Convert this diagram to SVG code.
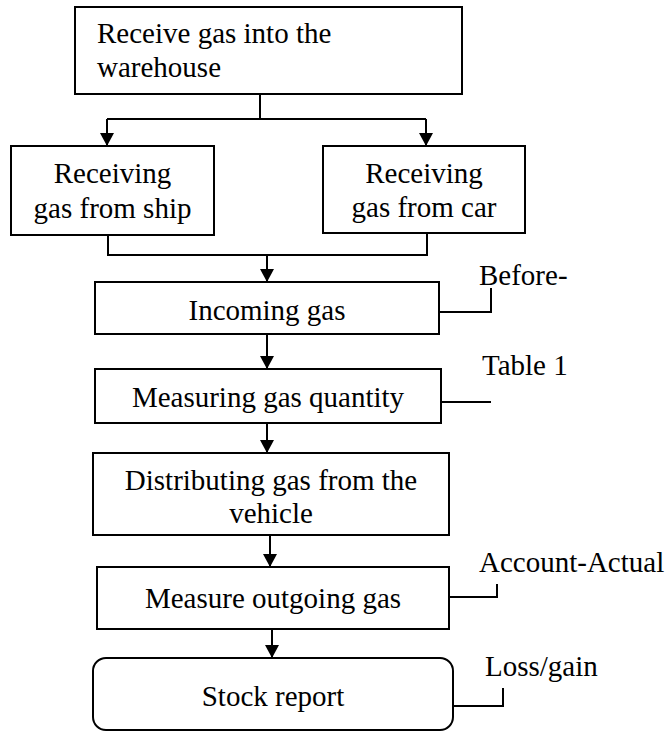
<svg xmlns="http://www.w3.org/2000/svg" width="667" height="731" viewBox="0 0 667 731" font-family="'Liberation Serif', 'Times New Roman', Times, serif">
<style>
.box{fill:#fff;stroke:#000;stroke-width:2}
.ln{fill:none;stroke:#000;stroke-width:2}
text{font-family:'Liberation Serif','Times New Roman',Times,serif;font-size:29px;fill:#000}
.c{text-anchor:middle}
</style>
<defs>
<marker id="ah" markerWidth="14" markerHeight="14" refX="13" refY="7" orient="auto" markerUnits="userSpaceOnUse" viewBox="0 0 13 14">
<path d="M0,0 L13,7 L0,14 z" fill="#000"/>
</marker>
</defs>
<rect width="667" height="731" fill="#fff"/>
<g id="connectors">
<path class="ln" d="M260,94 V119"/>
<path class="ln" d="M107,119 H426"/>
<path class="ln" d="M107,119 V146" marker-end="url(#ah)"/>
<path class="ln" d="M426,119 V146" marker-end="url(#ah)"/>
<path class="ln" d="M108,235 V255 H427 V233"/>
<path class="ln" d="M267,255 V282" marker-end="url(#ah)"/>
<path class="ln" d="M267,334 V369" marker-end="url(#ah)"/>
<path class="ln" d="M267,423 V453" marker-end="url(#ah)"/>
<path class="ln" d="M270,535 V567" marker-end="url(#ah)"/>
<path class="ln" d="M272,629 V658" marker-end="url(#ah)"/>
<path class="ln" d="M439,312 H491 V288"/>
<path class="ln" d="M441,402 H491"/>
<path class="ln" d="M449,597 H497 V584"/>
<path class="ln" d="M453,706 H503 V688"/>
</g>
<g id="receive">
<rect class="box" x="75" y="7" width="387" height="87"/>
<text x="97" y="43">Receive gas into the</text>
<text x="97" y="77">warehouse</text>
</g>
<g id="ship">
<rect class="box" x="11" y="146" width="203" height="89"/>
<text class="c" x="112.5" y="183">Receiving</text>
<text class="c" x="112.5" y="218">gas from ship</text>
</g>
<g id="car">
<rect class="box" x="323" y="146" width="202" height="87"/>
<text class="c" x="424" y="183">Receiving</text>
<text class="c" x="424" y="217">gas from car</text>
</g>
<g id="incoming">
<rect class="box" x="95" y="282" width="344" height="52"/>
<text class="c" x="267" y="320">Incoming gas</text>
</g>
<g id="measuring">
<rect class="box" x="95" y="369" width="346" height="54"/>
<text class="c" x="268" y="407">Measuring gas quantity</text>
</g>
<g id="distributing">
<rect class="box" x="93" y="453" width="356" height="82"/>
<text class="c" x="271" y="490">Distributing gas from the</text>
<text class="c" x="271" y="523">vehicle</text>
</g>
<g id="outgoing">
<rect class="box" x="97" y="567" width="352" height="62"/>
<text class="c" x="273" y="608">Measure outgoing gas</text>
</g>
<g id="stock">
<rect class="box" x="93" y="658" width="360" height="72" rx="13" ry="13"/>
<text class="c" x="273" y="706">Stock report</text>
</g>
<g id="labels">
<text x="479" y="285">Before-</text>
<text x="482" y="375">Table 1</text>
<text x="479" y="572">Account-Actual</text>
<text x="485" y="676">Loss/gain</text>
</g>
</svg>
